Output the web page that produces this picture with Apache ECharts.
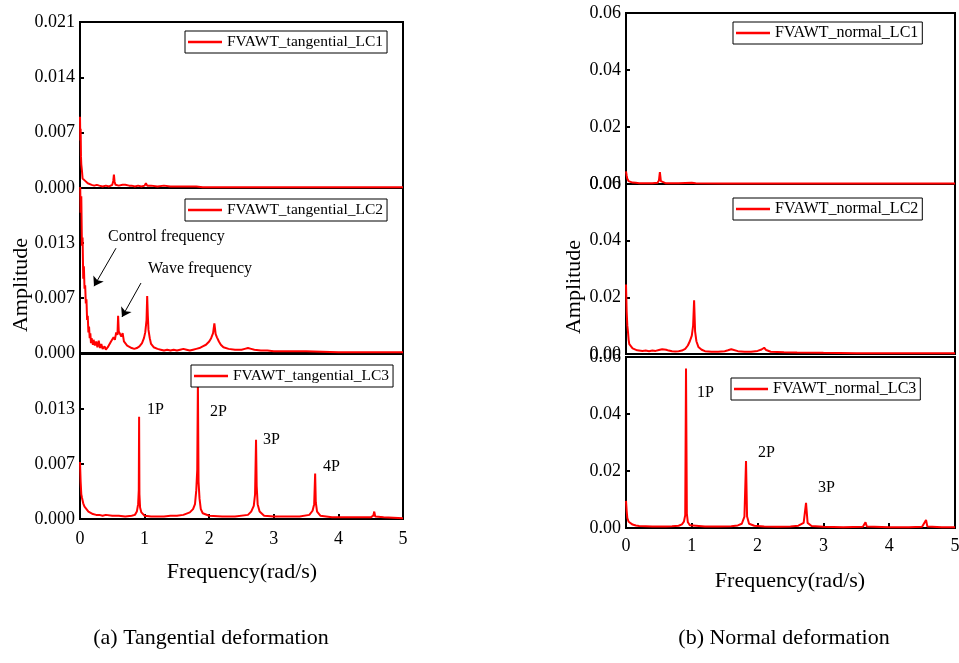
<!DOCTYPE html>
<html>
<head>
<meta charset="utf-8">
<title>FVAWT deformation spectra</title>
<script src="https://cdn.jsdelivr.net/npm/echarts@6/dist/echarts.min.js"></script>
<style>
  html, body { margin: 0; padding: 0; background: #ffffff; }
  #chart { width: 959px; height: 663px; }
</style>
</head>
<body>
<div id="chart"></div>
<script>
// ---- Series names (legend entries) ----
const tanNames = ['FVAWT_tangential_LC1', 'FVAWT_tangential_LC2', 'FVAWT_tangential_LC3'];
const norNames = ['FVAWT_normal_LC1', 'FVAWT_normal_LC2', 'FVAWT_normal_LC3'];

// ---- Frequency axis ticks (rad/s) ----
const freqTicks = [0, 1, 2, 3, 4, 5];

// ---- Amplitude axis ranges ----
const tanAmpMax = [0.021, 0.02, 0.02];
const tanAmpStep = [0.007, 0.02 / 3, 0.02 / 3];
const norAmpMax = [0.06, 0.06, 0.06];
const norAmpStep = [0.02, 0.02, 0.02];

// ---- Amplitude spectra: [frequency (rad/s), amplitude] ----
const tanLC1 = [
  [0,0.0090],[0.005,0.0060],[0.01,0.0075],[0.015,0.0040],[0.02,0.0030],[0.03,0.0022],[0.04,0.0012],
  [0.05,0.0010],[0.06,0.0013],[0.08,0.0009],[0.10,0.0008],[0.12,0.0006],[0.15,0.0005],[0.18,0.0004],
  [0.22,0.0003],[0.26,0.0004],[0.30,0.0003],[0.35,0.0002],[0.40,0.0003],[0.45,0.0002],[0.50,0.0004],
  [0.515,0.0009],[0.525,0.0017],[0.535,0.0008],[0.55,0.0004],[0.58,0.0005],[0.60,0.0003],[0.63,0.0005],
  [0.66,0.0004],[0.68,0.0006],[0.70,0.0004],[0.73,0.0005],[0.76,0.0003],[0.80,0.0003],[0.85,0.0002],
  [0.90,0.0003],[0.95,0.0002],[1.0,0.0003],[1.02,0.0006],[1.04,0.0003],[1.1,0.0003],[1.2,0.0002],
  [1.3,0.0003],[1.4,0.0002],[1.5,0.0002],[1.6,0.0002],[1.7,0.0002],[1.8,0.0002],[1.9,0.0001],
  [2.0,0.0001],[2.5,0.0001],[3.0,0.0001],[3.5,0.0001],[4.0,0.0001],[4.5,0.0001],[5.0,0.0001]
];
const tanLC2 = [
  [0,0.0215],[0.01,0.017],[0.02,0.019],[0.03,0.013],[0.04,0.014],[0.05,0.009],[0.06,0.0105],[0.07,0.0078],
  [0.08,0.0082],[0.09,0.006],[0.10,0.0065],[0.11,0.004],[0.12,0.0045],[0.13,0.0025],[0.14,0.0032],
  [0.15,0.0018],[0.16,0.0024],[0.17,0.0012],[0.18,0.0018],[0.20,0.0010],[0.21,0.0016],[0.23,0.0009],
  [0.25,0.0014],[0.27,0.0007],[0.29,0.0015],[0.31,0.0006],[0.33,0.0011],[0.35,0.0005],[0.38,0.0008],
  [0.40,0.0004],[0.43,0.0007],[0.46,0.0009],[0.48,0.0014],[0.50,0.0012],[0.52,0.0019],[0.54,0.0016],
  [0.56,0.0025],[0.58,0.0022],[0.59,0.0045],[0.60,0.0026],[0.62,0.0028],[0.64,0.0020],[0.66,0.0024],
  [0.68,0.0014],[0.70,0.0016],[0.73,0.0009],[0.76,0.0010],[0.80,0.0006],[0.84,0.0005],[0.88,0.0006],
  [0.92,0.0008],[0.96,0.0012],[0.99,0.0018],[1.01,0.0025],[1.03,0.0040],[1.04,0.0069],[1.05,0.0045],
  [1.06,0.0028],[1.08,0.0018],[1.10,0.0011],[1.14,0.0007],[1.2,0.0005],[1.25,0.0004],[1.3,0.0003],
  [1.35,0.0004],[1.4,0.0003],[1.45,0.0004],[1.5,0.0003],[1.55,0.0004],[1.6,0.0005],[1.62,0.0007],
  [1.65,0.0004],[1.7,0.0003],[1.75,0.0004],[1.8,0.0005],[1.85,0.0006],[1.9,0.0008],[1.95,0.0010],
  [2.0,0.0014],[2.03,0.0018],[2.06,0.0024],[2.08,0.0036],[2.10,0.0023],[2.12,0.0019],[2.15,0.0014],
  [2.18,0.0010],[2.22,0.0007],[2.3,0.0005],[2.4,0.0004],[2.5,0.0004],[2.55,0.0005],[2.6,0.0006],
  [2.65,0.0005],[2.7,0.0004],[2.8,0.0003],[2.9,0.0003],[3.0,0.0002],[3.2,0.0002],[3.5,0.0002],
  [4.0,0.0001],[4.5,0.0001],[5.0,0.0001]
];
const tanLC3 = [
  [0,0.0069],[0.01,0.0045],[0.02,0.0030],[0.03,0.0026],[0.05,0.0019],[0.07,0.0015],[0.1,0.0012],
  [0.13,0.0009],[0.16,0.0008],[0.2,0.0006],[0.25,0.0005],[0.3,0.0005],[0.35,0.0004],[0.4,0.0005],
  [0.5,0.0004],[0.6,0.0004],[0.7,0.0003],[0.8,0.0004],[0.85,0.0005],[0.88,0.0009],[0.90,0.0018],
  [0.91,0.0035],[0.915,0.0124],[0.92,0.0030],[0.93,0.0014],[0.95,0.0008],[1.0,0.0004],[1.1,0.0003],
  [1.2,0.0003],[1.3,0.0003],[1.4,0.0004],[1.5,0.0004],[1.6,0.0005],[1.7,0.0008],[1.75,0.0012],
  [1.78,0.0018],[1.80,0.0035],[1.815,0.0060],[1.825,0.0166],[1.835,0.0045],[1.85,0.0025],[1.87,0.0012],
  [1.9,0.0007],[2.0,0.0004],[2.2,0.0003],[2.4,0.0003],[2.6,0.0005],[2.65,0.0009],[2.69,0.0016],
  [2.71,0.0030],[2.725,0.0096],[2.735,0.0040],[2.75,0.0018],[2.78,0.0009],[2.85,0.0004],[3.0,0.0003],
  [3.2,0.0003],[3.4,0.0003],[3.55,0.0005],[3.6,0.0010],[3.625,0.0018],[3.64,0.0055],[3.65,0.0020],
  [3.67,0.0009],[3.72,0.0004],[3.9,0.0002],[4.2,0.0002],[4.5,0.0002],[4.54,0.0004],[4.555,0.0009],
  [4.57,0.0003],[4.7,0.0002],[5.0,0.0001]
];
const norLC1 = [
  [0,0.0044],[0.01,0.0030],[0.02,0.0018],[0.04,0.0010],[0.06,0.0007],[0.1,0.0005],[0.15,0.0004],
  [0.2,0.0003],[0.3,0.0003],[0.4,0.0003],[0.48,0.0004],[0.50,0.0012],[0.515,0.0042],[0.53,0.0010],
  [0.55,0.0004],[0.6,0.0003],[0.8,0.0003],[1.0,0.0004],[1.03,0.0006],[1.06,0.0003],[1.5,0.0002],
  [2.0,0.0002],[3.0,0.0002],[4.0,0.0002],[5.0,0.0002]
];
const norLC2 = [
  [0,0.0245],[0.01,0.0150],[0.02,0.0100],[0.03,0.0078],[0.04,0.0050],[0.05,0.0035],[0.07,0.0028],
  [0.1,0.0020],[0.13,0.0015],[0.17,0.0013],[0.2,0.0012],[0.25,0.0011],[0.3,0.0012],[0.35,0.0010],
  [0.4,0.0012],[0.45,0.0011],[0.5,0.0014],[0.55,0.0017],[0.58,0.0020],[0.61,0.0015],[0.65,0.0012],
  [0.7,0.0010],[0.75,0.0009],[0.8,0.0010],[0.85,0.0012],[0.9,0.0018],[0.94,0.0030],[0.97,0.0045],
  [1.0,0.0065],[1.02,0.0100],[1.035,0.0190],[1.05,0.0080],[1.07,0.0045],[1.1,0.0025],[1.15,0.0015],
  [1.2,0.0010],[1.3,0.0008],[1.4,0.0008],[1.5,0.0010],[1.55,0.0013],[1.6,0.0017],[1.63,0.0015],
  [1.7,0.0010],[1.8,0.0008],[1.9,0.0008],[2.0,0.0011],[2.06,0.0016],[2.1,0.0022],[2.13,0.0014],
  [2.2,0.0008],[2.4,0.0006],[2.6,0.0005],[3.0,0.0004],[3.5,0.0003],[4.0,0.0003],[4.5,0.0003],[5.0,0.0003]
];
const norLC3 = [
  [0,0.0095],[0.01,0.0060],[0.02,0.0035],[0.04,0.0022],[0.07,0.0015],[0.1,0.0012],[0.15,0.0009],
  [0.2,0.0007],[0.3,0.0006],[0.4,0.0005],[0.5,0.0005],[0.6,0.0005],[0.7,0.0006],[0.8,0.0008],
  [0.85,0.0013],[0.88,0.0022],[0.90,0.0045],[0.912,0.0560],[0.925,0.0050],[0.94,0.0020],[0.97,0.0010],
  [1.0,0.0007],[1.2,0.0005],[1.4,0.0005],[1.6,0.0006],[1.7,0.0009],[1.76,0.0015],[1.80,0.0040],
  [1.824,0.0235],[1.84,0.0040],[1.87,0.0015],[1.95,0.0008],[2.1,0.0005],[2.3,0.0004],[2.5,0.0005],
  [2.62,0.0008],[2.7,0.0018],[2.736,0.0088],[2.76,0.0018],[2.82,0.0007],[3.0,0.0004],[3.3,0.0003],
  [3.6,0.0004],[3.64,0.0020],[3.66,0.0005],[4.0,0.0003],[4.3,0.0003],[4.5,0.0004],[4.56,0.0028],
  [4.58,0.0005],[4.8,0.0003],[5.0,0.0003]
];

// ---- Chart construction ----
const SERIF = '"Liberation Serif", "Times New Roman", serif';
const RED = '#ff0000';

// Sub-plot frames (pixels): left column tangential, right column normal
const tanFrames = [
  { left: 80, top: 22, width: 323, height: 166 },
  { left: 80, top: 188, width: 323, height: 165 },
  { left: 80, top: 354, width: 323, height: 165 }
];
const norFrames = [
  { left: 626, top: 13, width: 329, height: 171 },
  { left: 626, top: 184, width: 329, height: 170 },
  { left: 626, top: 357, width: 329, height: 171 }
];
const tanLegendPos = [[185, 31], [185, 199], [191, 365]];
const norLegendPos = [[733, 22], [733, 198], [731, 378]];

const grids = [], xAxes = [], yAxes = [], legends = [], seriesList = [];

function addPanel(frame, name, data, yMax, yStep, decimals, isBottom, showMaxLabel, legendPos, legendFont, extra, labelMarginX) {
  const idx = grids.length;
  grids.push(Object.assign({
    show: true, borderColor: '#000', borderWidth: 2, backgroundColor: 'transparent',
    containLabel: false, outerBoundsMode: 'none'
  }, frame));
  xAxes.push({
    type: 'value', gridIndex: idx, min: freqTicks[0], max: freqTicks[freqTicks.length - 1], interval: 1,
    axisLine: { show: false },
    axisTick: { show: isBottom, inside: true, length: 5, lineStyle: { color: '#000', width: 2 } },
    axisLabel: { show: isBottom, margin: labelMarginX, color: '#000', fontFamily: SERIF, fontSize: 18 },
    splitLine: { show: false }
  });
  yAxes.push({
    type: 'value', gridIndex: idx, min: 0, max: yMax, interval: yStep,
    axisLine: { show: true, lineStyle: { color: '#000', width: 2 } },
    axisTick: { show: true, inside: true, length: 4, lineStyle: { color: '#000', width: 2 } },
    axisLabel: {
      color: '#000', fontFamily: SERIF, fontSize: 18, margin: 5,
      showMaxLabel: showMaxLabel,
      formatter: v => v.toFixed(decimals)
    },
    splitLine: { show: false }
  });
  legends.push({
    data: [name], left: legendPos[0], top: legendPos[1],
    orient: 'horizontal', icon: 'rect', itemWidth: 34, itemHeight: 2.5,
    padding: [3, 4, 3, 3], borderColor: '#000', borderWidth: 1, borderRadius: 0,
    backgroundColor: '#fff', selectedMode: false,
    textStyle: { color: '#000', fontFamily: SERIF, fontSize: legendFont, padding: [0, 0, 0, 0] }
  });
  seriesList.push(Object.assign({
    name: name, type: 'line', xAxisIndex: idx, yAxisIndex: idx, data: data,
    symbol: 'none', clip: true, color: RED,
    lineStyle: { color: RED, width: 2 }
  }, extra || {}));
}

const annoFont = { color: '#000', fontFamily: SERIF, fontSize: 16 };
function textMarks(items) {
  return {
    symbol: 'circle', symbolSize: 0, silent: true, animation: false,
    label: Object.assign({ show: true, position: 'right', distance: 0, formatter: '{b}' }, annoFont),
    data: items.map(t => ({ name: t[0], coord: [t[1], t[2]] }))
  };
}
function arrowMarks(segs) {
  return {
    silent: true, animation: false, symbol: ['none', 'arrow'], symbolSize: 9,
    itemStyle: { color: '#000' },
    lineStyle: { color: '#000', width: 1, type: 'solid' },
    label: { show: false },
    data: segs.map(s => [
      { coord: [s[0], s[1]], symbol: 'none' },
      { coord: [s[2], s[3]], symbol: 'arrow', symbolSize: 9, itemStyle: { color: '#000' } }
    ])
  };
}

// Tangential column
addPanel(tanFrames[0], tanNames[0], tanLC1, tanAmpMax[0], tanAmpStep[0], 3, false, true, tanLegendPos[0], 15.5);
addPanel(tanFrames[1], tanNames[1], tanLC2, tanAmpMax[1], tanAmpStep[1], 3, false, false, tanLegendPos[1], 15.5, {
  markPoint: textMarks([['Control frequency', 0.433, 0.0141], ['Wave frequency', 1.053, 0.0102]]),
  markLine: arrowMarks([[0.557, 0.0127, 0.217, 0.0081], [0.944, 0.00848, 0.650, 0.00436]])
});
addPanel(tanFrames[2], tanNames[2], tanLC3, tanAmpMax[2], tanAmpStep[2], 3, true, false, tanLegendPos[2], 15.5, {
  markPoint: textMarks([['1P', 1.037, 0.0132], ['2P', 2.012, 0.0130], ['3P', 2.833, 0.0096], ['4P', 3.762, 0.0063]])
}, 11);

// Normal column
addPanel(norFrames[0], norNames[0], norLC1, norAmpMax[0], norAmpStep[0], 2, false, true, norLegendPos[0], 16);
addPanel(norFrames[1], norNames[1], norLC2, norAmpMax[1], norAmpStep[1], 2, false, true, norLegendPos[1], 16);
addPanel(norFrames[2], norNames[2], norLC3, norAmpMax[2], norAmpStep[2], 2, true, true, norLegendPos[2], 16, {
  markPoint: textMarks([['1P', 1.079, 0.0474], ['2P', 2.006, 0.0263], ['3P', 2.918, 0.0140]])
}, 9);

const titleFont = { fill: '#000', fontFamily: SERIF, fontSize: 22 };
function centeredText(x, y, text, rotate, size) {
  return {
    type: 'text', x: x, y: y, rotation: rotate || 0,
    style: Object.assign({}, titleFont, { text: text, align: 'center', verticalAlign: 'middle', fontSize: size || 22 })
  };
}

const chart = echarts.init(document.getElementById('chart'), null, { renderer: 'canvas' });
chart.setOption({
  backgroundColor: '#ffffff',
  animation: false,
  grid: grids,
  xAxis: xAxes,
  yAxis: yAxes,
  legend: legends,
  series: seriesList,
  graphic: [
    centeredText(21, 285, 'Amplitude', Math.PI / 2),
    centeredText(574, 287, 'Amplitude', Math.PI / 2),
    centeredText(242, 572, 'Frequency(rad/s)'),
    centeredText(790, 581, 'Frequency(rad/s)'),
    centeredText(211, 638, '(a) Tangential deformation'),
    centeredText(784, 638, '(b) Normal deformation')
  ]
});
</script>
</body>
</html>
